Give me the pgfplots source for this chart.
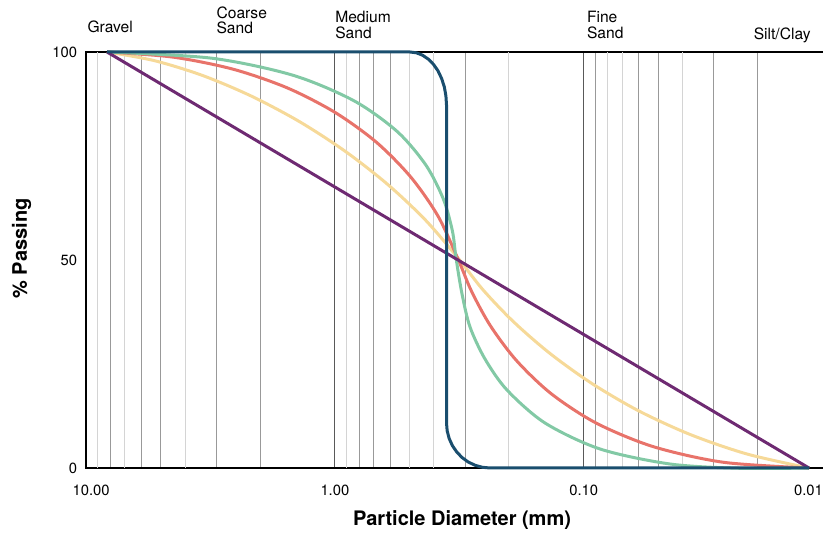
\documentclass[border=0pt]{standalone}
\usepackage{fontspec}
\setmainfont{TeX Gyre Heros}
\usepackage{pgfplots}
\pgfplotsset{compat=1.18}
\definecolor{cgreen}{HTML}{82C9A5}
\definecolor{cred}{HTML}{E8736A}
\definecolor{cyellow}{HTML}{F6D998}
\definecolor{cpurple}{HTML}{6E2A72}
\definecolor{cblue}{HTML}{1A4E6E}
\newcommand{\catfont}{\fontsize{7.8}{8}\selectfont}
\begin{document}
\begin{tikzpicture}
\path[use as bounding box] (-43.05pt,-35.5pt) rectangle (368.45pt,234pt);
\begin{axis}[
  at={(0pt,0pt)}, anchor=south west,
  scale only axis, width=373.2pt, height=208pt,
  xmode=log, x dir=reverse,
  xmin=0.01, xmax=10, ymin=0, ymax=100,
  clip=false,
  axis line style={black, line width=0.7pt},
  xtick={10,1,0.1,0.01},
  xticklabels={\kern2.5pt 10.00\kern-2.5pt,1.00,0.10,\kern-12pt 0.01\kern12pt},
  minor xtick={8,6,5,3,2,0.8,0.7,0.6,0.3,0.09,0.06,0.05,0.03,0.02},
  extra x ticks={9,7,4,0.9,0.5,0.4,0.2,0.08,0.07,0.04},
  extra x tick labels={},
  extra x tick style={grid=major, major grid style={black!17, line width=0.5pt}},
  xmajorgrids, xminorgrids,
  major grid style={black!65, line width=0.5pt},
  minor grid style={black!40, line width=0.5pt},
  ytick={0,50,100}, yticklabels={0,50,100},
  major tick length=0pt, minor tick length=0pt,
  tick label style={font=\fontsize{7.4}{9}\selectfont},
  xticklabel style={yshift=-5pt},
  yticklabel style={xshift=-1pt},
  xlabel={Particle Diameter (mm)},
  ylabel={\% Passing},
  label style={font=\bfseries\fontsize{10}{12}\selectfont},
  xlabel style={at={(axis description cs:0.5036,-0.1394)}, anchor=base},
  ylabel style={at={(axis description cs:-0.0792,0.5276)}, anchor=base},
]
% yellow
\addplot[cyellow, line width=1.5pt, smooth] coordinates {
(8.241,100) (5.3246,97.93) (3.4022,94.35) (2.1638,89.38) (1.3889,83.27)
(0.9099,76.15) (0.6146,68.20) (0.4324,59.59) (0.3201,50.48) (0.2551,42.96)
(0.1922,35.24) (0.1372,27.62) (0.09304,20.37) (0.06011,13.73) (0.03708,7.98)
(0.02194,3.32) (0.01243,0)};
% red
\addplot[cred, line width=1.5pt, smooth] coordinates {
(8.241,100) (4.4785,98.77) (2.5679,95.87) (1.5564,91.39) (0.9991,85.48)
(0.6817,78.32) (0.4954,69.93) (0.3851,60.55) (0.3201,50.24) (0.2825,42.50)
(0.2371,34.18) (0.1861,25.79) (0.1348,17.81) (0.08891,10.77) (0.05246,5.12)
(0.02740,1.37) (0.01243,0)};
% green
\addplot[cgreen, line width=1.5pt, smooth] coordinates {
(8.241,100) (3.1274,98.51) (1.4764,94.42) (0.8411,88.32) (0.5629,80.93)
(0.4308,72.81) (0.3664,64.62) (0.3371,56.97) (0.3260,50.48) (0.3084,41.83)
(0.2864,33.89) (0.2493,26.20) (0.2034,18.75) (0.1431,10.82) (0.08600,4.57)
(0.04499,0.96) (0.02354,-0.07) (0.01243,0)};
% purple
\addplot[cpurple, line width=1.5pt] coordinates {
(8.241,100) (0.01243,0)};
% blue
\addplot[cblue, line width=1.5pt, line join=round] coordinates {
(8.241,100) (0.4991,100) (0.4708,99.81) (0.4445,99.23) (0.4215,98.29)
(0.4015,97.02) (0.3851,95.46) (0.3725,93.63) (0.3633,91.61) (0.3580,89.47)
(0.3560,87.26) (0.3560,10.82) (0.3538,8.94) (0.3475,7.12) (0.3374,5.41)
(0.3240,3.87) (0.3084,2.52) (0.2911,1.44) (0.2732,0.65) (0.2554,0.17)
(0.2380,0) (0.01243,0)};
% category labels
\node[anchor=base west, inner sep=0pt, font=\catfont] at (axis cs:9.9,104.57) {Gravel};
\node[anchor=base west, inner sep=0pt, font=\catfont] at (axis cs:3,108.17) {Coarse};
\node[anchor=base west, inner sep=0pt, font=\catfont] at (axis cs:3,104.33) {Sand};
\node[anchor=base west, inner sep=0pt, font=\catfont] at (axis cs:1,106.97) {Medium};
\node[anchor=base west, inner sep=0pt, font=\catfont] at (axis cs:1,103.25) {Sand};
\node[anchor=base west, inner sep=0pt, font=\catfont] at (axis cs:0.0973,106.97) {Fine};
\node[anchor=base west, inner sep=0pt, font=\catfont] at (axis cs:0.0973,103.25) {Sand};
\node[anchor=base west, inner sep=0pt, font=\catfont] at (axis cs:0.0208,103.00) {Silt/Clay};
\end{axis}
\end{tikzpicture}
\end{document}
